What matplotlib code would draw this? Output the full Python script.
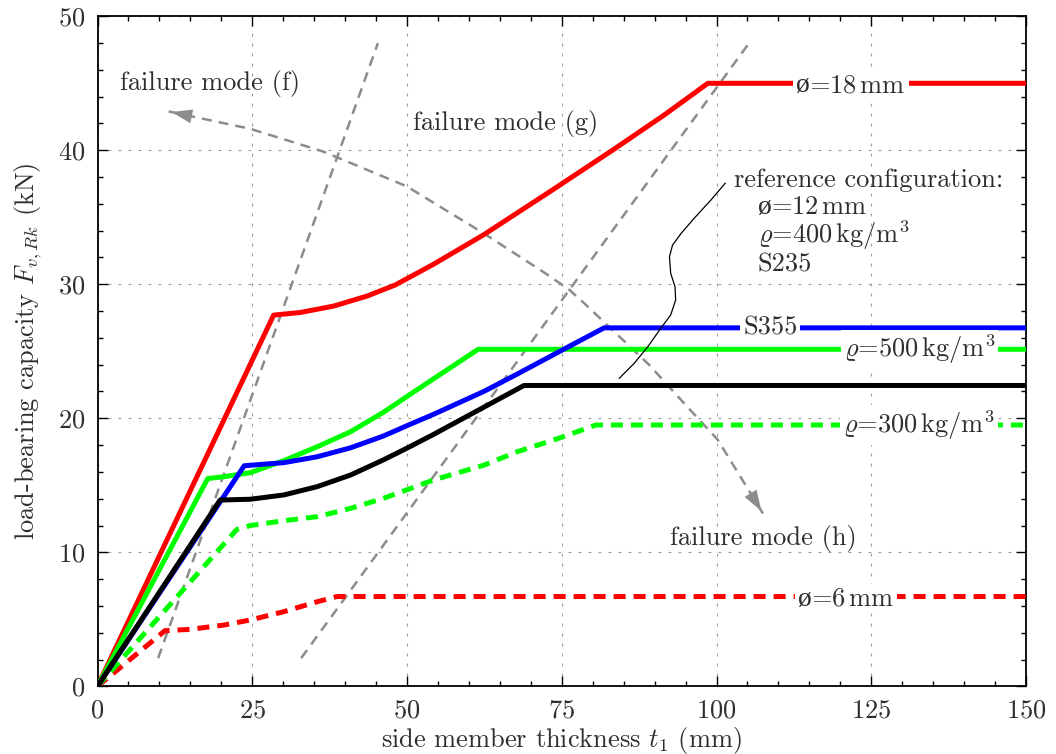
import matplotlib
matplotlib.use('Agg')
import matplotlib.pyplot as plt
from matplotlib.ticker import MultipleLocator

plt.rcParams['font.family'] = ['cmr10', 'DejaVu Serif']
plt.rcParams['mathtext.fontset'] = 'cm'
plt.rcParams['axes.formatter.use_mathtext'] = True
plt.rcParams['font.size'] = 19

# load-bearing capacity curves, t1 in mm, F in kN
d18_t = [0, 28.45, 32.8, 38.2, 43.6, 48.1, 54.3, 62.4, 73.2, 83.5, 91.6, 98.6, 150]
d18_F = [0, 27.7, 27.9, 28.38, 29.13, 29.95, 31.5, 33.7, 36.95, 40.1, 42.65, 45.0, 45.0]

s355_t = [0, 23.7, 30.1, 35.5, 40.9, 46.2, 49.9, 54.3, 62.4, 67.8, 75.1, 81.85, 150]
s355_F = [0, 16.46, 16.69, 17.13, 17.8, 18.68, 19.43, 20.3, 22.0, 23.3, 25.1, 26.75, 26.75]

r500_t = [0, 17.8, 20.4, 24.7, 30.1, 35.5, 40.9, 46.2, 49.9, 54.3, 61.5, 150]
r500_F = [0, 15.5, 15.64, 15.94, 16.84, 17.88, 19.0, 20.45, 21.6, 22.95, 25.15, 25.15]

ref_t = [0, 19.8, 24.7, 30.1, 35.5, 40.9, 46.2, 49.9, 54.3, 61.9, 68.9, 150]
ref_F = [0, 13.9, 13.96, 14.28, 14.9, 15.77, 16.9, 17.75, 18.8, 20.7, 22.45, 22.45]

r300_t = [0, 22.5, 24.7, 30.1, 35.5, 40.9, 46.2, 49.9, 54.3, 62.4, 67.8, 75.1, 80.5, 150]
r300_F = [0, 11.7, 12.0, 12.36, 12.66, 13.28, 14.03, 14.65, 15.4, 16.5, 17.5, 18.6, 19.5, 19.5]

d6_t = [0, 10.9, 15.0, 20.4, 24.7, 30.1, 35.5, 38.7, 150]
d6_F = [0, 4.15, 4.25, 4.57, 4.95, 5.57, 6.31, 6.7, 6.7]

# boundaries between failure modes
fg_t = [9.8, 45.3]
fg_F = [2.1, 48.0]
gh_t = [32.9, 105.1]
gh_F = [2.1, 47.9]

# sweep from mode (f) over (g) to (h)
dir_t = [11.5, 24.7, 36.5, 50.0, 62.4, 72.1, 76.2, 78.6, 89.1, 94.8, 100.2, 107.5]
dir_F = [42.9, 41.6, 39.9, 37.3, 33.8, 30.9, 29.6, 28.6, 24.0, 21.1, 18.4, 12.9]

# leader from the note down to the reference curve
lead_t = [101.4, 99.1, 96.4, 94.3, 92.9, 92.4, 92.6, 93.3, 93.4, 92.6, 91.0, 88.9, 86.7, 84.3]
lead_F = [37.54, 36.29, 34.93, 33.81, 32.93, 32.06, 30.82, 29.82, 28.83, 27.71, 26.72, 25.34, 24.1, 22.99]

txt = '#2e2e2e'
gray = '#8c8c8c'

fig = plt.figure(figsize=(10.56, 7.54), dpi=100)
ax = fig.add_axes([97.5 / 1056, 1 - 686.3 / 754, 928.5 / 1056, 670 / 754])

ax.set_xlim(0, 150)
ax.set_ylim(0, 50)
ax.xaxis.set_major_locator(MultipleLocator(25))
ax.xaxis.set_minor_locator(MultipleLocator(5))
ax.yaxis.set_major_locator(MultipleLocator(10))
ax.yaxis.set_minor_locator(MultipleLocator(2))
ax.tick_params(which='both', direction='in', top=True, right=True,
               colors='black', labelcolor=txt, width=1)
ax.tick_params(which='major', length=7, pad=9)
ax.tick_params(which='minor', length=3.6)
for s in ax.spines.values():
    s.set_linewidth(1.3)
ax.grid(True, which='major', color='#9a9a9a', lw=0.8, ls=(0, (2.5, 6.5)))
ax.set_axisbelow(True)

ax.plot(fg_t, fg_F, color=gray, lw=1.8, dashes=(4, 2.8), zorder=2)
ax.plot(gh_t, gh_F, color=gray, lw=1.8, dashes=(4, 2.8), zorder=2)
ax.plot(dir_t, dir_F, color=gray, lw=1.8, dashes=(4, 2.8), zorder=2)
for a, b in [(1, 0), (-2, -1)]:
    ax.annotate('', xy=(dir_t[b], dir_F[b]), xytext=(dir_t[a], dir_F[a]),
                arrowprops=dict(arrowstyle='-|>,head_length=0.75,head_width=0.25',
                                color=gray, lw=0, mutation_scale=20), zorder=2)

lw = 3.6
ax.plot(d6_t, d6_F, color='#ff0000', lw=lw, dashes=(2.4, 1.6), zorder=3)
ax.plot(r300_t, r300_F, color='#00ff00', lw=lw, dashes=(2.4, 1.6), zorder=3)
ax.plot(d18_t, d18_F, color='#ff0000', lw=lw, zorder=3)
ax.plot(r500_t, r500_F, color='#00ff00', lw=lw, zorder=3)
ax.plot(s355_t, s355_F, color='#0000ff', lw=lw, zorder=3)
ax.plot(ref_t, ref_F, color='black', lw=lw, zorder=4)
ax.plot(lead_t, lead_F, color='black', lw=0.9, zorder=5, solid_joinstyle='round')

box = dict(facecolor='white', edgecolor='none', pad=2)


def diameter_label(x, y, rest, boxed=True):
    # the slashed o is not in cmr10, so it goes in its own text
    kw = dict(xytext=(0, -6.5), textcoords='offset points', va='baseline', color=txt)
    if boxed:
        kw['bbox'] = box
    ax.annotate(rest, xy=(x, y), ha='left', zorder=6, **kw)
    ax.annotate('ø', xy=(x, y), ha='right', family='Liberation Serif', fontsize=20,
                zorder=7, **kw)


diameter_label(115.0, 45.0, '=18$\\,$mm')
diameter_label(115.3, 6.7, '=6$\\,$mm')
ax.text(108.7, 26.75, 'S355', color=txt, ha='center', va='center', bbox=box, zorder=6)
ax.text(132.8, 25.15, '$\\varrho$=500$\\,$kg/m$^3$', color=txt, ha='center', va='center',
        bbox=box, zorder=6)
ax.text(132.7, 19.5, '$\\varrho$=300$\\,$kg/m$^3$', color=txt, ha='center', va='center',
        bbox=box, zorder=6)

ax.text(18.2, 45.0, 'failure mode (f)', color=txt, ha='center', va='center')
ax.text(65.9, 42.0, 'failure mode (g)', color=txt, ha='center', va='center')
ax.text(107.5, 11.05, 'failure mode (h)', color=txt, ha='center', va='center')

ax.text(102.8, 37.8, 'reference configuration:', color=txt, ha='left', va='center')
diameter_label(108.8, 35.9, '=12$\\,$mm', boxed=False)
ax.text(106.7, 33.7, '$\\varrho$=400$\\,$kg/m$^3$', color=txt, ha='left', va='center')
ax.text(106.7, 31.5, 'S235', color=txt, ha='left', va='center')

ax.set_xlabel('side member thickness $t_1$ (mm)', color=txt, labelpad=1.5)
ax.set_ylabel('load-bearing capacity $F_{v,Rk}$ (kN)', color=txt, labelpad=10)

fig.savefig('out.png', dpi=100)
